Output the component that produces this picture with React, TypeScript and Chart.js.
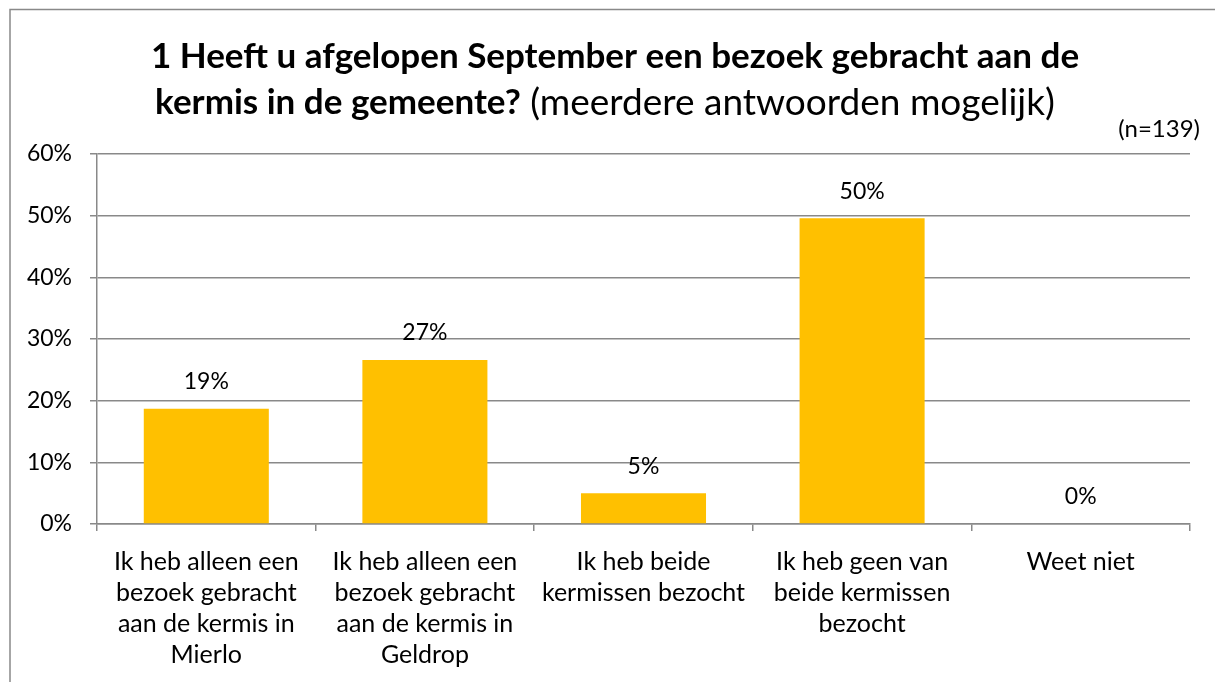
import React, { useEffect, useRef } from "react";
import { Chart, registerables } from "chart.js";

Chart.register(...registerables);

const categories: string[][] = [
  ["Ik heb alleen een", "bezoek gebracht", "aan de kermis in", "Mierlo"],
  ["Ik heb alleen een", "bezoek gebracht", "aan de kermis in", "Geldrop"],
  ["Ik heb beide", "kermissen bezocht"],
  ["Ik heb geen van", "beide kermissen", "bezocht"],
  ["Weet niet"],
];
const values: number[] = [18.7, 26.6, 5.0, 49.6, 0];
const yTicks: number[] = [0, 10, 20, 30, 40, 50, 60];
const titleLine1 = "1 Heeft u afgelopen September een bezoek gebracht aan de";
const titleLine2Bold = "kermis in de gemeente?";
const titleLine2Normal = " (meerdere antwoorden mogelijk)";
const sampleNote = "(n=139)";

const FONT = "Lato, 'Open Sans', sans-serif";
const GRID = "#898989";

const decorPlugin = {
  id: "decor",
  beforeDraw(chart: any) {
    const ctx = chart.ctx;
    ctx.save();
    ctx.fillStyle = "#ffffff";
    ctx.fillRect(0, 0, chart.width, chart.height);
    ctx.strokeStyle = GRID;
    ctx.lineWidth = 1.5;
    ctx.beginPath();
    ctx.moveTo(10, chart.height);
    ctx.lineTo(10, 9.5);
    ctx.lineTo(chart.width, 9.5);
    ctx.stroke();
    ctx.restore();
  },
  afterDraw(chart: any) {
    const ctx = chart.ctx;
    ctx.save();
    ctx.fillStyle = "#000000";
    ctx.textBaseline = "middle";
    ctx.textAlign = "center";
    const boldFont = `bold 35px ${FONT}`;
    const normFont = `37px ${FONT}`;
    ctx.font = boldFont;
    ctx.fillText(titleLine1, 615, 57);
    const w1 = ctx.measureText(titleLine2Bold).width;
    ctx.font = normFont;
    const w2 = ctx.measureText(titleLine2Normal).width;
    const start = 605 - (w1 + w2) / 2;
    ctx.textAlign = "left";
    ctx.font = boldFont;
    ctx.fillText(titleLine2Bold, start, 103);
    ctx.font = normFont;
    ctx.fillText(titleLine2Normal, start + w1, 103);
    ctx.textAlign = "right";
    ctx.font = `24px ${FONT}`;
    ctx.fillText(sampleNote, 1200, 129);
    ctx.restore();
  },
  afterDatasetsDraw(chart: any) {
    const ctx = chart.ctx;
    const meta = chart.getDatasetMeta(0);
    ctx.save();
    ctx.fillStyle = "#000000";
    ctx.textAlign = "center";
    ctx.textBaseline = "middle";
    ctx.font = `23px ${FONT}`;
    meta.data.forEach((bar: any, i: number) => {
      const v = chart.data.datasets[0].data[i] as number;
      ctx.fillText(`${Math.round(v)}%`, bar.x, bar.y - 27);
    });
    ctx.restore();
  },
};

export default function App() {
  const ref = useRef<HTMLCanvasElement | null>(null);
  useEffect(() => {
    if (!ref.current) return;
    const chart = new Chart(ref.current, {
      type: "bar",
      data: {
        labels: categories,
        datasets: [
          {
            data: values,
            backgroundColor: "#FFC000",
            borderWidth: 0,
            categoryPercentage: 1,
            barPercentage: 0.572,
          },
        ],
      },
      options: {
        animation: false,
        responsive: false,
        layout: { padding: { top: 154, right: 25, bottom: 0, left: 0 } },
        plugins: {
          legend: { display: false },
          title: { display: false },
          tooltip: { enabled: false },
        },
        scales: {
          x: {
            afterFit: (s: any) => {
              s.height = 158;
            },
            grid: {
              drawOnChartArea: false,
              drawTicks: true,
              tickLength: 7,
              color: GRID,
              lineWidth: 1.5,
              offset: true,
            },
            border: { display: true, color: GRID, width: 1.5 },
            ticks: {
              color: "#000000",
              padding: 15,
              maxRotation: 0,
              autoSkip: false,
              font: { family: FONT, size: 25, lineHeight: 1.24 },
            },
          },
          y: {
            min: 0,
            max: 60,
            afterFit: (s: any) => {
              s.width = 97;
            },
            afterBuildTicks: (s: any) => {
              s.ticks = yTicks.map((v) => ({ value: v }));
            },
            grid: {
              color: GRID,
              lineWidth: 1.5,
              tickLength: 7,
              drawTicks: true,
            },
            border: { display: true, color: GRID, width: 1.5 },
            ticks: {
              color: "#000000",
              padding: 18,
              font: { family: FONT, size: 23 },
              callback: (v: any) => `${v}%`,
            },
          },
        },
      },
      plugins: [decorPlugin],
    });
    return () => chart.destroy();
  }, []);
  return (
    <div style={{ position: "absolute", left: 0, top: 0, width: 1215, height: 682 }}>
      <canvas ref={ref} width={1215} height={682} style={{ display: "block" }} />
    </div>
  );
}
